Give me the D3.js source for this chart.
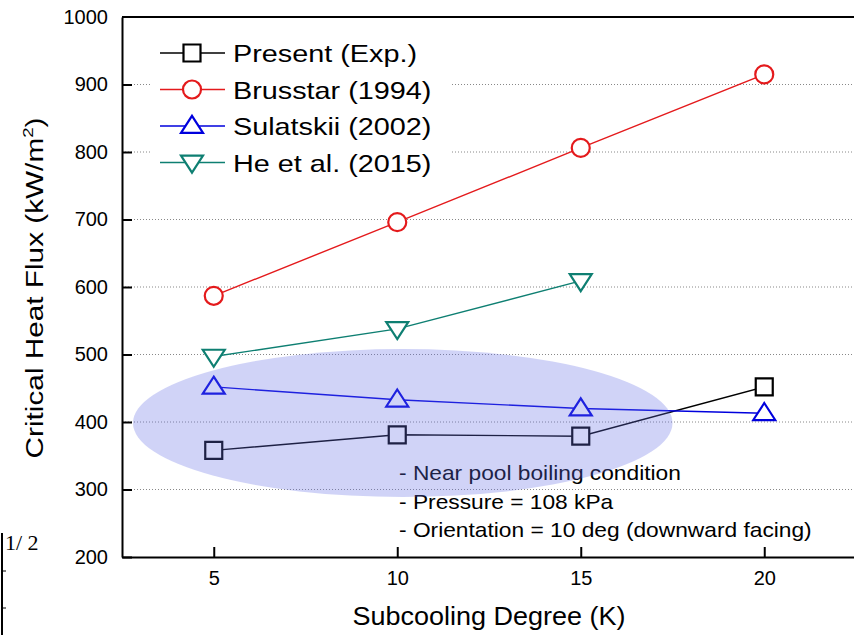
<!DOCTYPE html>
<html>
<head>
<meta charset="utf-8">
<script src="https://cdn.jsdelivr.net/npm/d3@7"></script>
<style>
  body { margin: 0; background: #fff; }
  svg text { font-family: "Liberation Sans", Arial, sans-serif; }
</style>
</head>
<body>
<div id="chart"></div>
<script>
// data
var subcooling = [5, 10, 15, 20];
var present = [358, 381, 379, 452];
var brusstar = [587, 696, 806, 915];
var sulatskii = [452, 433, 420, 413];
var heEtAl = [497, 538, 609];

var seriesNames = ["Present (Exp.)", "Brusstar (1994)", "Sulatskii (2002)", "He et al. (2015)"];
var seriesColors = ["#000000", "#e41a1c", "#0000dd", "#0e7f72"];
var seriesSymbols = ["square", "circle", "triangle", "triangleDown"];
var seriesValues = [present, brusstar, sulatskii, heEtAl];

var xTicks = [5, 10, 15, 20];
var yTicks = [200, 300, 400, 500, 600, 700, 800, 900, 1000];
var gridValues = [300, 400, 500, 600, 700, 800, 900];

var notes = ["- Near pool boiling condition", "- Pressure = 108 kPa", "- Orientation = 10 deg (downward facing)"];

var width = 854, height = 635;
var margin = { left: 122, top: 17, right: -2, bottom: 78 };

var svg = d3.select("#chart")
    .append("svg")
    .attr("width", width)
    .attr("height", height);

var x = d3.scaleLinear()
    .domain([2.5, 22.5])
    .range([margin.left, width - margin.right]);

var y = d3.scaleLinear()
    .domain([200, 1000])
    .range([height - margin.bottom, margin.top]);

// dotted grid
svg.append("g")
    .selectAll("line")
    .data(gridValues)
    .enter().append("line")
    .attr("x1", x.range()[0])
    .attr("x2", x.range()[1])
    .attr("y1", d => y(d))
    .attr("y2", d => y(d))
    .attr("stroke", "#888")
    .attr("stroke-width", 1)
    .attr("stroke-dasharray", "1,2");

// legend background hides the grid behind it
svg.append("rect")
    .attr("x", 150)
    .attr("y", 33)
    .attr("width", 300)
    .attr("height", 150)
    .attr("fill", "#fff");

// axes
var xAxis = d3.axisBottom(x).tickValues(xTicks).tickSize(-10).tickPadding(14).tickSizeOuter(0);
var yAxis = d3.axisLeft(y).tickValues(yTicks).tickFormat(d3.format("d")).tickSize(-10).tickPadding(14).tickSizeOuter(0);

var gx = svg.append("g")
    .attr("transform", `translate(0,${y(200)})`)
    .call(xAxis);
var gy = svg.append("g")
    .attr("transform", `translate(${x(2.5)},0)`)
    .call(yAxis);

[gx, gy].forEach(g => {
    g.attr("font-family", null).attr("font-size", null);
    g.select(".domain").attr("stroke", "#000").attr("stroke-width", 2);
    g.selectAll(".tick line").attr("stroke", "#000").attr("stroke-width", 2);
    g.selectAll(".tick text").attr("fill", "#000").style("font-size", "20px");
});
gy.selectAll(".tick").filter(d => d == 1000).select("line").remove();

// top frame
svg.append("line")
    .attr("x1", x(2.5)).attr("x2", x(22.5))
    .attr("y1", y(1000)).attr("y2", y(1000))
    .attr("stroke", "#000").attr("stroke-width", 2);

// axis titles (the original lettering is a bit wider than Arial)
svg.append("text")
    .attr("transform", "translate(489,625) scale(1.08,1)")
    .attr("text-anchor", "middle")
    .style("font-size", "25px")
    .text("Subcooling Degree (K)");

var yTitle = svg.append("text")
    .attr("transform", "translate(43,288) rotate(-90) scale(1.24,1)")
    .attr("text-anchor", "middle")
    .style("font-size", "24px");
yTitle.append("tspan").text("Critical Heat Flux (kW/m");
yTitle.append("tspan").attr("dy", -10).style("font-size", "15px").text("2");
yTitle.append("tspan").attr("dy", 10).text(")");

function symbolPath(type, cx, cy) {
    if (type == "square") {
        var s = 8.5;
        return `M${cx - s},${cy - s}h${2 * s}v${2 * s}h${-2 * s}Z`;
    }
    if (type == "circle") {
        var r = 9;
        return `M${cx - r},${cy}a${r},${r} 0 1,0 ${2 * r},0a${r},${r} 0 1,0 ${-2 * r},0Z`;
    }
    var w = 11, h = 17;
    if (type == "triangle") {
        return `M${cx},${cy - h * 0.6}L${cx + w},${cy + h * 0.4}L${cx - w},${cy + h * 0.4}Z`;
    }
    return `M${cx},${cy + h * 0.6}L${cx + w},${cy - h * 0.4}L${cx - w},${cy - h * 0.4}Z`;
}

var line = d3.line()
    .x(d => x(d[0]))
    .y(d => y(d[1]));

seriesValues.forEach((vals, i) => {
    var pts = vals.map((v, j) => [subcooling[j], v]);
    svg.append("path")
        .attr("d", line(pts))
        .attr("fill", "none")
        .attr("stroke", seriesColors[i])
        .attr("stroke-width", 1.4);
    svg.append("g")
        .selectAll("path")
        .data(pts)
        .enter().append("path")
        .attr("d", d => symbolPath(seriesSymbols[i], x(d[0]), y(d[1])))
        .attr("fill", "#fff")
        .attr("stroke", seriesColors[i])
        .attr("stroke-width", 2.2);
});

// legend
var legend = svg.append("g");
seriesNames.forEach((name, i) => {
    var ly = 53 + i * 36.5;
    legend.append("line")
        .attr("x1", 160).attr("x2", 225)
        .attr("y1", ly).attr("y2", ly)
        .attr("stroke", seriesColors[i])
        .attr("stroke-width", 1.4);
    legend.append("path")
        .attr("d", symbolPath(seriesSymbols[i], 192, ly))
        .attr("fill", "#fff")
        .attr("stroke", seriesColors[i])
        .attr("stroke-width", 2.2);
    legend.append("text")
        .attr("transform", `translate(233,${ly + 9}) scale(1.2,1)`)
        .style("font-size", "24px")
        .text(name);
});

// notes
svg.append("g")
    .selectAll("text")
    .data(notes)
    .enter().append("text")
    .attr("transform", (d, i) => `translate(399,${480 + i * 28.5}) scale(1.11,1)`)
    .style("font-size", "20.5px")
    .text(d => d);

// highlight ellipse, semi transparent over everything
svg.append("ellipse")
    .attr("cx", x(10.15))
    .attr("cy", y(398.5))
    .attr("rx", x(10.15) - x(2.8))
    .attr("ry", 74)
    .attr("fill", "rgb(100,110,230)")
    .attr("opacity", 0.3);

// scan artifact in the lower-left corner
svg.append("line")
    .attr("x1", 2).attr("x2", 2)
    .attr("y1", 533).attr("y2", 635)
    .attr("stroke", "#000").attr("stroke-width", 2);
[571, 608].forEach(t => {
    svg.append("line")
        .attr("x1", 2).attr("x2", 6)
        .attr("y1", t).attr("y2", t)
        .attr("stroke", "#000").attr("stroke-width", 1);
});
svg.append("text")
    .attr("x", 5)
    .attr("y", 550)
    .style("font-family", "'Liberation Serif', serif")
    .style("font-size", "22px")
    .text("1/ 2");
</script>
</body>
</html>
